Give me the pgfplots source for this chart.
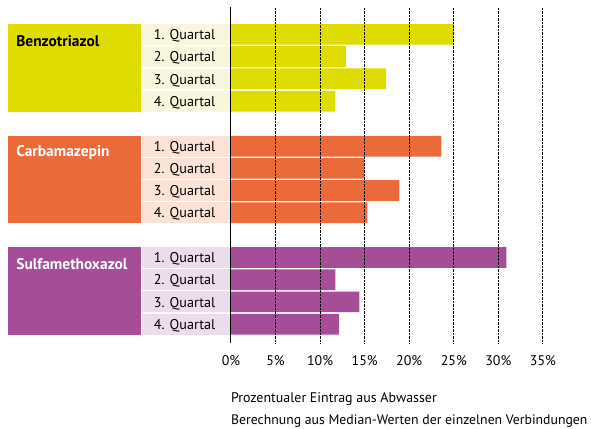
\documentclass[border=0pt]{standalone}
\usepackage{pgfplots}
\pgfplotsset{compat=1.18}
\usepackage{fontspec}
\setmainfont{PT Sans}
\definecolor{cY}{HTML}{DEDC00}
\definecolor{cYl}{HTML}{F8F6DD}
\definecolor{cO}{HTML}{EB6A3A}
\definecolor{cOl}{HTML}{FCE3D8}
\definecolor{cP}{HTML}{A54D96}
\definecolor{cPl}{HTML}{EDDDEC}
\begin{document}
\begin{tikzpicture}
\begin{axis}[
  scale only axis, width=312bp, height=336bp,
  xmin=0, xmax=35, ymin=-343, ymax=-7,
  clip=false, axis on top,
  axis line style={draw=none},
  xtick={5,10,...,35},
  extra x ticks={0},
  extra x tick style={grid style={solid, black, line width=1pt}},
  xmajorgrids,
  grid style={black, densely dotted, line width=1pt},
  ytick=\empty,
  major tick length=0pt,
  /pgf/number format/assume math mode=true,
  xticklabel={\pgfmathprintnumber{\tick}\%},
  xticklabel style={font=\fontsize{14}{16}\selectfont, inner sep=0pt, yshift=-12bp},
  xbar, bar width=20.7, bar shift=0pt,
]
% left group blocks
\fill[cY] (axis cs:-25,-24) rectangle (axis cs:-10.1,-111.7);
\fill[cO] (axis cs:-25,-135.7) rectangle (axis cs:-10.1,-223);
\fill[cP] (axis cs:-25,-247) rectangle (axis cs:-10.1,-335);
% quarter label boxes
\fill[cYl] (axis cs:-9.98,-24) rectangle (axis cs:-0.05,-44.7);
\fill[cYl] (axis cs:-9.98,-46.3) rectangle (axis cs:-0.05,-67);
\fill[cYl] (axis cs:-9.98,-68.6) rectangle (axis cs:-0.05,-89.3);
\fill[cYl] (axis cs:-9.98,-90.8) rectangle (axis cs:-0.05,-111.7);
\fill[cOl] (axis cs:-9.98,-135.7) rectangle (axis cs:-0.05,-156.6);
\fill[cOl] (axis cs:-9.98,-158) rectangle (axis cs:-0.05,-178.8);
\fill[cOl] (axis cs:-9.98,-180.2) rectangle (axis cs:-0.05,-201);
\fill[cOl] (axis cs:-9.98,-202.4) rectangle (axis cs:-0.05,-223);
\fill[cPl] (axis cs:-9.98,-247) rectangle (axis cs:-0.05,-268);
\fill[cPl] (axis cs:-9.98,-269.3) rectangle (axis cs:-0.05,-290.2);
\fill[cPl] (axis cs:-9.98,-291.5) rectangle (axis cs:-0.05,-312.4);
\fill[cPl] (axis cs:-9.98,-313.8) rectangle (axis cs:-0.05,-335);
% bars
\addplot[fill=cY, draw=none] coordinates {(25.0,-34.4) (12.9,-56.6) (17.4,-78.8) (11.7,-101.2)};
\addplot[fill=cO, draw=none] coordinates {(23.6,-146.2) (15.0,-168.4) (18.9,-190.6) (15.3,-212.7)};
\addplot[fill=cP, draw=none] coordinates {(30.9,-257.5) (11.7,-279.7) (14.4,-301.9) (12.1,-324.2)};
% group labels
\node[anchor=west, inner sep=0pt, font=\fontsize{15.5}{17}\selectfont\bfseries, text=black] at (axis cs:-24.1,-41) {Benzotriazol};
\node[anchor=west, inner sep=0pt, font=\fontsize{15.5}{17}\selectfont\bfseries, text=white] at (axis cs:-24.1,-153) {Carbamazepin};
\node[anchor=west, inner sep=0pt, font=\fontsize{15.5}{17}\selectfont\bfseries, text=white] at (axis cs:-24.1,-264) {Sulfamethoxazol};
% quarter labels
\begin{scope}[every node/.style={font=\fontsize{14.2}{16}\selectfont, yshift=-1.5bp}]
\node at (axis cs:-5.2,-34.4) {1. Quartal};
\node at (axis cs:-5.2,-56.6) {2. Quartal};
\node at (axis cs:-5.2,-78.8) {3. Quartal};
\node at (axis cs:-5.2,-101.2) {4. Quartal};
\node at (axis cs:-5.2,-146.2) {1. Quartal};
\node at (axis cs:-5.2,-168.4) {2. Quartal};
\node at (axis cs:-5.2,-190.6) {3. Quartal};
\node at (axis cs:-5.2,-212.7) {4. Quartal};
\node at (axis cs:-5.2,-257.5) {1. Quartal};
\node at (axis cs:-5.2,-279.7) {2. Quartal};
\node at (axis cs:-5.2,-301.9) {3. Quartal};
\node at (axis cs:-5.2,-324.2) {4. Quartal};
\end{scope}
% axis description
\node[anchor=west, inner sep=0pt, font=\fontsize{14}{16}\selectfont] at (axis cs:0,-399) {Prozentualer Eintrag aus Abwasser};
\node[anchor=west, inner sep=0pt, font=\fontsize{13.8}{16}\selectfont] at (axis cs:0,-421) {Berechnung aus Median-Werten der einzelnen Verbindungen};
% bounding box
\path (axis cs:-25.91,0) rectangle (axis cs:40.39,-429);
\end{axis}
\end{tikzpicture}
\end{document}
